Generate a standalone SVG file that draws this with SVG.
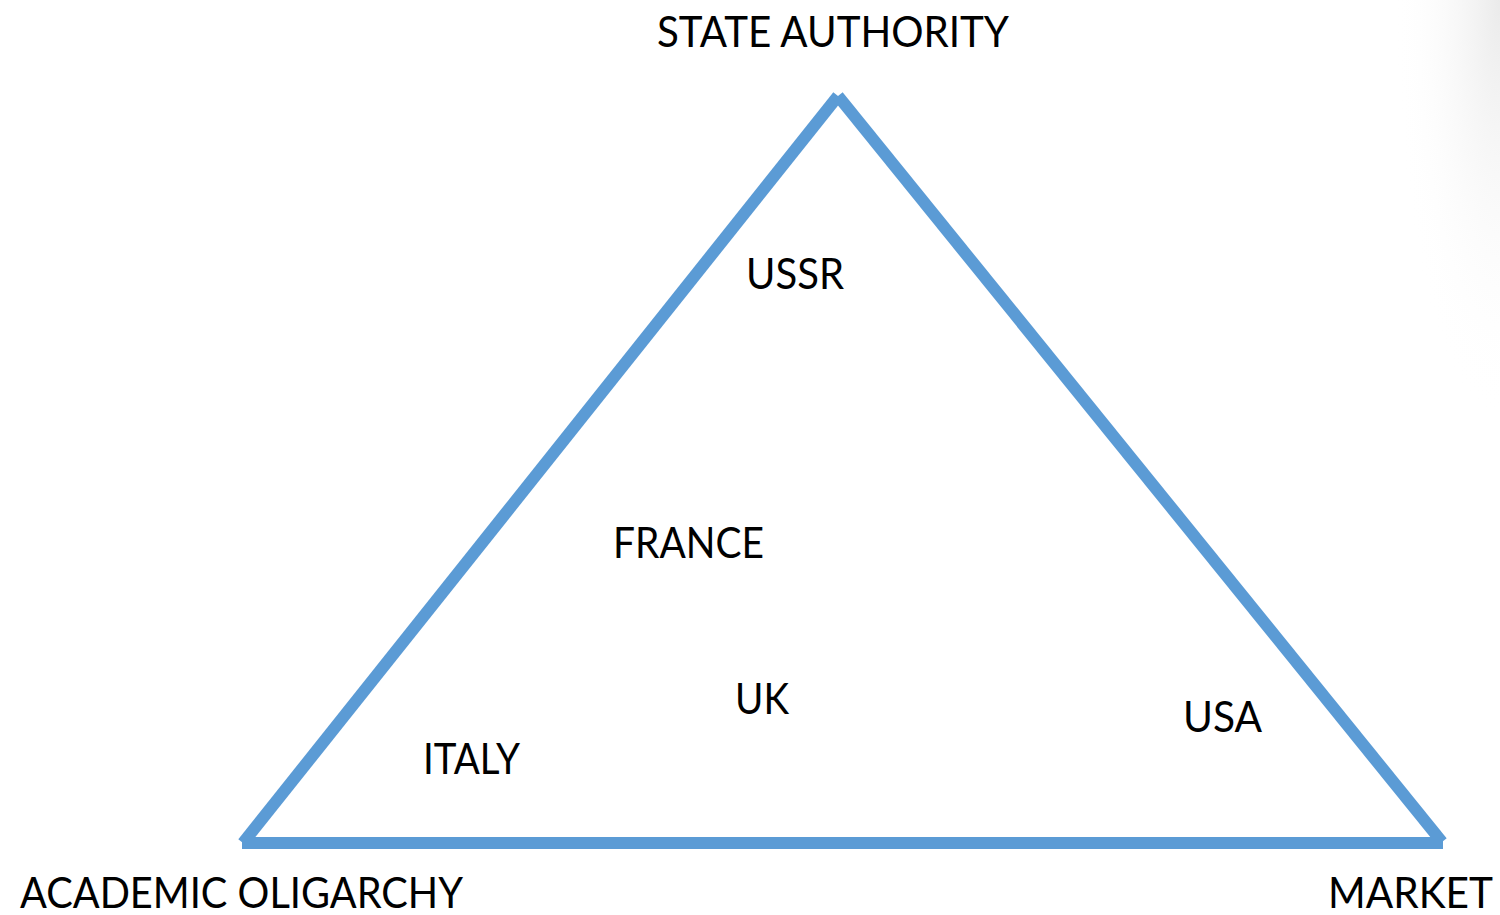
<svg xmlns="http://www.w3.org/2000/svg" width="1500" height="915" viewBox="0 0 1500 915">
  <defs>
    <style>
      .edge { stroke: #5B9BD5; stroke-width: 12; stroke-linecap: butt; fill: none; }
      .label { font-family: "Lato", "Open Sans", "Liberation Sans", sans-serif; font-size: 42px; fill: #000000; }
    </style>
    <radialGradient id="cornerShade" cx="1500" cy="0" r="420" gradientUnits="userSpaceOnUse" gradientTransform="translate(1500 0) scale(0.25 1) translate(-1500 0)">
      <stop offset="0" stop-color="#e8e8e8" stop-opacity="0.9"/>
      <stop offset="1" stop-color="#ffffff" stop-opacity="0"/>
    </radialGradient>
  </defs>

  <!-- page background with a faint shade in the top-right corner -->
  <rect x="0" y="0" width="1500" height="915" fill="#ffffff"/>
  <rect x="1380" y="0" width="120" height="915" fill="url(#cornerShade)"/>

  <!-- triangle sides -->
  <g id="connectors">
    <line class="edge" x1="243" y1="843" x2="838" y2="96"/>
    <line class="edge" x1="838" y1="96" x2="1442" y2="842"/>
    <line class="edge" x1="242" y1="843" x2="1443" y2="843"/>
  </g>

  <!-- corner poles -->
  <g id="state-authority">
    <text class="label" x="657" y="47" textLength="352" lengthAdjust="spacingAndGlyphs">STATE AUTHORITY</text>
  </g>
  <g id="academic-oligarchy">
    <text class="label" x="20" y="908" textLength="443" lengthAdjust="spacingAndGlyphs">ACADEMIC OLIGARCHY</text>
  </g>
  <g id="market">
    <text class="label" x="1328" y="908" textLength="165" lengthAdjust="spacingAndGlyphs">MARKET</text>
  </g>

  <!-- countries placed inside the triangle -->
  <g id="ussr">
    <text class="label" x="746" y="289" textLength="98" lengthAdjust="spacingAndGlyphs">USSR</text>
  </g>
  <g id="france">
    <text class="label" x="613" y="558" textLength="151" lengthAdjust="spacingAndGlyphs">FRANCE</text>
  </g>
  <g id="uk">
    <text class="label" x="735" y="714" textLength="54" lengthAdjust="spacingAndGlyphs">UK</text>
  </g>
  <g id="usa">
    <text class="label" x="1183" y="732" textLength="79" lengthAdjust="spacingAndGlyphs">USA</text>
  </g>
  <g id="italy">
    <text class="label" x="423" y="774" textLength="97" lengthAdjust="spacingAndGlyphs">ITALY</text>
  </g>
</svg>
